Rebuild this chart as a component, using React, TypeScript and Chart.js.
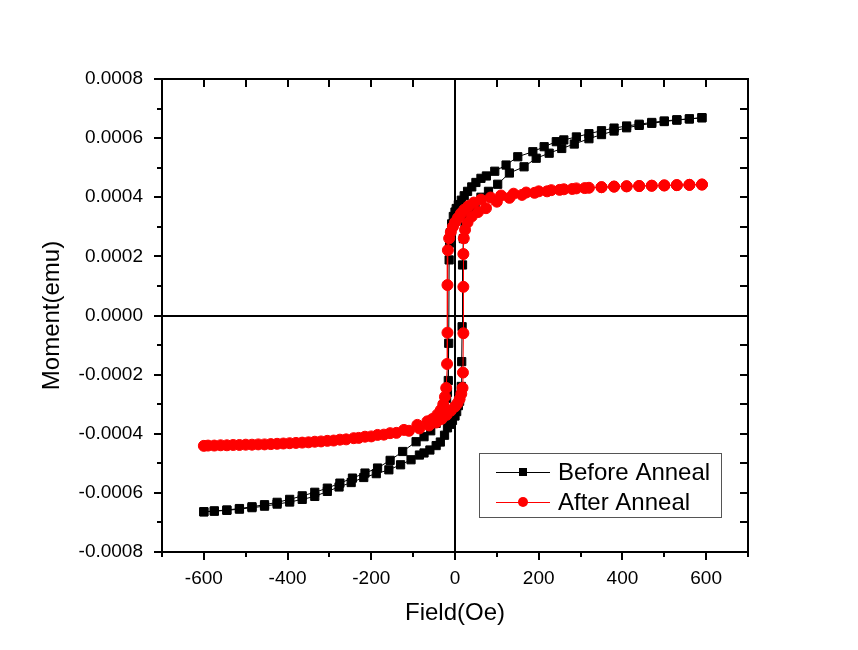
import React, { useEffect, useRef } from 'react';
import { Chart, registerables } from 'chart.js';

Chart.register(...registerables);

// ---- Data ----
const seriesNames = ['Before Anneal', 'After Anneal'];

// Before Anneal: descending branch (+590 -> -600)
const beforeDescField = [590, 560, 530, 500, 470, 440, 410, 380, 350, 320, 290, 260, 242, 213, 186, 150, 122, 95, 75, 62, 50, 40, 30, 22, 15, 8, 3, 0, -4, -8, -11, -13, -14, -15, -16, -18, -20, -26, -34, -45, -58, -74, -93, -125, -155, -185, -215, -245, -275, -305, -335, -365, -395, -425, -455, -485, -515, -545, -575, -600];
const beforeDescMoment = [0.000669, 0.000665, 0.000662, 0.000658, 0.000653, 0.000647, 0.000641, 0.000634, 0.000625, 0.000615, 0.000604, 0.000594, 0.000588, 0.000571, 0.000554, 0.000537, 0.000509, 0.000488, 0.000472, 0.000464, 0.00045, 0.000435, 0.00042, 0.000405, 0.00039, 0.000375, 0.000362, 0.00035, 0.000335, 0.00031, 0.00028, 0.000245, 0.000188, -0.000094, -0.00022, -0.00026, -0.00028, -0.00031, -0.00034, -0.000365, -0.00039, -0.00041, -0.000427, -0.00046, -0.00049, -0.000516, -0.000533, -0.00055, -0.000567, -0.000584, -0.000598, -0.00061, -0.000622, -0.000632, -0.00064, -0.000647, -0.000653, -0.000658, -0.000661, -0.000664];
// Before Anneal: ascending branch (-600 -> +590)
const beforeAscField = [-600, -575, -545, -515, -485, -455, -425, -395, -365, -335, -305, -277, -248, -218, -188, -158, -130, -105, -85, -74, -60, -45, -35, -25, -18, -12, -6, 0, 4, 8, 11, 13, 15, 16, 17, 18, 20, 24, 30, 38, 48, 62, 80, 102, 130, 165, 194, 225, 255, 285, 320, 350, 380, 410, 440, 470, 500, 530, 560, 590];
const beforeAscMoment = [-0.000664, -0.000662, -0.000659, -0.000655, -0.00065, -0.000645, -0.000638, -0.000631, -0.000622, -0.000612, -0.000595, -0.00058, -0.000565, -0.000548, -0.000535, -0.000522, -0.000505, -0.000488, -0.000472, -0.000465, -0.000455, -0.00044, -0.000428, -0.000405, -0.00038, -0.000368, -0.000355, -0.00034, -0.000325, -0.000305, -0.00029, -0.00027, -0.00024, -0.000156, -0.000038, 0.000171, 0.00026, 0.0003, 0.00033, 0.000355, 0.000378, 0.0004, 0.00042, 0.000444, 0.000482, 0.000503, 0.000532, 0.000549, 0.000565, 0.00058, 0.000598, 0.000612, 0.000624, 0.000635, 0.000643, 0.00065, 0.000656, 0.000661, 0.000665, 0.000669];

// After Anneal: descending branch (+590 -> -600)
const afterDescField = [590, 560, 530, 500, 470, 440, 410, 380, 350, 320, 290, 260, 230, 200, 170, 140, 110, 85, 62, 45, 32, 22, 14, 7, 0, -5, -10, -14, -17, -18, -18, -19, -21, -24, -28, -34, -42, -54, -66, -90, -122, -155, -185, -215, -242, -275, -305, -335, -365, -395, -425, -455, -485, -515, -545, -575, -600];
const afterDescMoment = [0.000443, 0.000442, 0.000441, 0.00044, 0.000439, 0.000438, 0.000437, 0.000436, 0.000434, 0.000432, 0.00043, 0.000427, 0.000424, 0.00042, 0.000416, 0.000412, 0.000406, 0.000399, 0.000392, 0.000382, 0.00037, 0.000358, 0.000345, 0.00033, 0.000315, 0.0003, 0.000282, 0.000261, 0.000221, 0.000103, -0.000058, -0.000164, -0.000245, -0.000275, -0.0003, -0.00032, -0.000335, -0.00035, -0.000358, -0.00037, -0.000387, -0.000398, -0.000404, -0.00041, -0.000415, -0.00042, -0.000424, -0.000427, -0.00043, -0.000432, -0.000434, -0.000436, -0.000437, -0.000438, -0.000439, -0.00044, -0.000441];
// After Anneal: ascending branch (-590 -> +590)
const afterAscField = [-590, -560, -530, -500, -470, -440, -410, -380, -350, -320, -290, -260, -230, -200, -170, -140, -110, -85, -62, -45, -32, -20, -10, 0, 6, 11, 15, 18, 19, 20, 20, 20, 21, 24, 30, 40, 55, 74, 100, 130, 160, 190, 220, 250, 280, 310, 350, 380, 410, 440, 470, 500, 530, 560, 590];
const afterAscMoment = [-0.00044, -0.000439, -0.000438, -0.000437, -0.000436, -0.000435, -0.000433, -0.000431, -0.000429, -0.000426, -0.000423, -0.000419, -0.000414, -0.000409, -0.000403, -0.000397, -0.00039, -0.000382, -0.000372, -0.000362, -0.00035, -0.000336, -0.000322, -0.000308, -0.000297, -0.000283, -0.000265, -0.000245, -0.000193, -0.00006, 0.000097, 0.000208, 0.000261, 0.00029, 0.000315, 0.000335, 0.00035, 0.000363, 0.000385, 0.000398, 0.000408, 0.000415, 0.00042, 0.000425, 0.000428, 0.000431, 0.000434, 0.000436, 0.000437, 0.000438, 0.000439, 0.00044, 0.000441, 0.000442, 0.000443];

// Axis ticks
const xTickValues = [-600, -400, -200, 0, 200, 400, 600];
const xMinorTicks = [-700, -500, -300, -100, 100, 300, 500, 700];
const yTickValues = [-0.0008, -0.0006, -0.0004, -0.0002, 0, 0.0002, 0.0004, 0.0006, 0.0008];
const yMinorTicks = [-0.0007, -0.0005, -0.0003, -0.0001, 0.0001, 0.0003, 0.0005, 0.0007];
const xTitle = 'Field(Oe)';
const yTitle = 'Moment(emu)';

const FONT = "'Liberation Sans', Arial, sans-serif";

function toPoints(fields: number[], moments: number[]) {
  return fields.map((f, i) => ({ x: f, y: moments[i] }));
}

const framePlugin = {
  id: 'framePlugin',
  beforeDatasetsDraw(chart: any) {
    const { ctx, chartArea, scales } = chart;
    const { left, right, top, bottom } = chartArea;
    const x0 = Math.round(scales.x.getPixelForValue(0));
    const y0 = Math.round(scales.y.getPixelForValue(0));
    ctx.save();
    ctx.strokeStyle = '#000';
    ctx.lineWidth = 2;
    ctx.beginPath();
    ctx.moveTo(x0, top);
    ctx.lineTo(x0, bottom);
    ctx.moveTo(left, y0);
    ctx.lineTo(right, y0);
    ctx.stroke();
    ctx.restore();
  },
  afterDraw(chart: any) {
    const { ctx, chartArea, scales } = chart;
    const { left, right, top, bottom } = chartArea;
    ctx.save();
    ctx.strokeStyle = '#000';
    ctx.lineWidth = 2;
    ctx.strokeRect(left, top, right - left, bottom - top);
    ctx.beginPath();
    const MAJ = 8, MIN = 5, IN = 8;
    xTickValues.forEach((v) => {
      const px = Math.round(scales.x.getPixelForValue(v));
      ctx.moveTo(px, bottom); ctx.lineTo(px, bottom + MAJ);
      ctx.moveTo(px, top); ctx.lineTo(px, top + IN);
    });
    xMinorTicks.forEach((v) => {
      const px = Math.round(scales.x.getPixelForValue(v));
      ctx.moveTo(px, bottom); ctx.lineTo(px, bottom + MIN);
      ctx.moveTo(px, top); ctx.lineTo(px, top + IN);
    });
    yTickValues.forEach((v) => {
      const py = Math.round(scales.y.getPixelForValue(v));
      ctx.moveTo(left, py); ctx.lineTo(left - MAJ, py);
      ctx.moveTo(right, py); ctx.lineTo(right - IN, py);
    });
    yMinorTicks.forEach((v) => {
      const py = Math.round(scales.y.getPixelForValue(v));
      ctx.moveTo(left, py); ctx.lineTo(left - MIN, py);
      ctx.moveTo(right, py); ctx.lineTo(right - IN, py);
    });
    ctx.stroke();

    // Legend box
    const bw = 242, bh = 64;
    const bx = right - 27 - bw;
    const by = bottom - 35 - bh;
    ctx.fillStyle = '#fff';
    ctx.fillRect(bx, by, bw, bh);
    ctx.strokeStyle = '#555';
    ctx.lineWidth = 1;
    ctx.strokeRect(bx + 0.5, by + 0.5, bw, bh);
    const rows = [
      { name: seriesNames[0], color: '#000000', style: 'rect', y: by + 19 },
      { name: seriesNames[1], color: '#ff0000', style: 'circle', y: by + 49 },
    ];
    rows.forEach((r) => {
      ctx.strokeStyle = r.color;
      ctx.lineWidth = 1;
      ctx.beginPath();
      ctx.moveTo(bx + 17, r.y + 0.5);
      ctx.lineTo(bx + 71, r.y + 0.5);
      ctx.stroke();
      ctx.fillStyle = r.color;
      if (r.style === 'rect') {
        ctx.fillRect(bx + 44 - 4, r.y - 4, 8, 8);
      } else {
        ctx.beginPath();
        ctx.arc(bx + 44, r.y, 5, 0, Math.PI * 2);
        ctx.fill();
      }
      ctx.fillStyle = '#000';
      ctx.font = `24px ${FONT}`;
      ctx.textAlign = 'left';
      ctx.textBaseline = 'middle';
      ctx.fillText(r.name, bx + 79, r.y + 1);
    });
    ctx.restore();
  },
};

export default function App() {
  const canvasRef = useRef<HTMLCanvasElement | null>(null);

  useEffect(() => {
    if (!canvasRef.current) return;
    const chart = new Chart(canvasRef.current, {
      type: 'scatter',
      data: {
        datasets: [
          {
            label: seriesNames[0],
            data: [...toPoints(beforeDescField, beforeDescMoment), ...toPoints(beforeAscField, beforeAscMoment)],
            showLine: true,
            borderColor: '#000000',
            backgroundColor: '#000000',
            borderWidth: 1,
            pointStyle: 'rect',
            pointRadius: 5.8,
            pointBorderWidth: 1,
            pointBorderColor: '#000000',
            pointBackgroundColor: '#000000',
            order: 2,
          },
          {
            label: seriesNames[1],
            data: [...toPoints(afterDescField, afterDescMoment), ...toPoints(afterAscField, afterAscMoment)],
            showLine: true,
            borderColor: '#ff0000',
            backgroundColor: '#ff0000',
            borderWidth: 1,
            pointStyle: 'circle',
            pointRadius: 5.5,
            pointBorderWidth: 1,
            pointBorderColor: '#ff0000',
            pointBackgroundColor: '#ff0000',
            order: 1,
          },
        ],
      },
      options: {
        animation: false,
        responsive: true,
        maintainAspectRatio: false,
        layout: { padding: { left: 0, top: 79, right: 110, bottom: 0 } },
        plugins: {
          legend: { display: false },
          tooltip: { enabled: false },
        },
        scales: {
          x: {
            type: 'linear',
            min: -700,
            max: 700,
            afterBuildTicks: (scale: any) => {
              scale.ticks = xTickValues.map((v) => ({ value: v }));
            },
            afterFit: (scale: any) => {
              scale.height = 98;
            },
            grid: { display: false },
            border: { display: false },
            ticks: {
              color: '#000',
              font: { family: FONT, size: 19 },
              padding: 7,
              maxRotation: 0,
              autoSkip: false,
              callback: (v: any) => String(v),
            },
            title: {
              display: true,
              text: xTitle,
              color: '#000',
              font: { family: FONT, size: 24 },
              padding: { top: 0, bottom: 22 },
            },
          },
          y: {
            type: 'linear',
            min: -0.0008,
            max: 0.0008,
            afterBuildTicks: (scale: any) => {
              scale.ticks = yTickValues.map((v) => ({ value: v }));
            },
            afterFit: (scale: any) => {
              scale.width = 162;
            },
            grid: { display: false },
            border: { display: false },
            ticks: {
              color: '#000',
              font: { family: FONT, size: 19 },
              padding: 11,
              autoSkip: false,
              callback: (v: any) => Number(v).toFixed(4),
            },
            title: {
              display: true,
              text: yTitle,
              color: '#000',
              font: { family: FONT, size: 24 },
              padding: { top: 38, bottom: 0 },
            },
          },
        },
      },
      plugins: [framePlugin],
    });
    return () => chart.destroy();
  }, []);

  return (
    <div style={{ position: 'fixed', left: 0, top: 0, width: 858, height: 650, background: '#fff' }}>
      <canvas ref={canvasRef} />
    </div>
  );
}
